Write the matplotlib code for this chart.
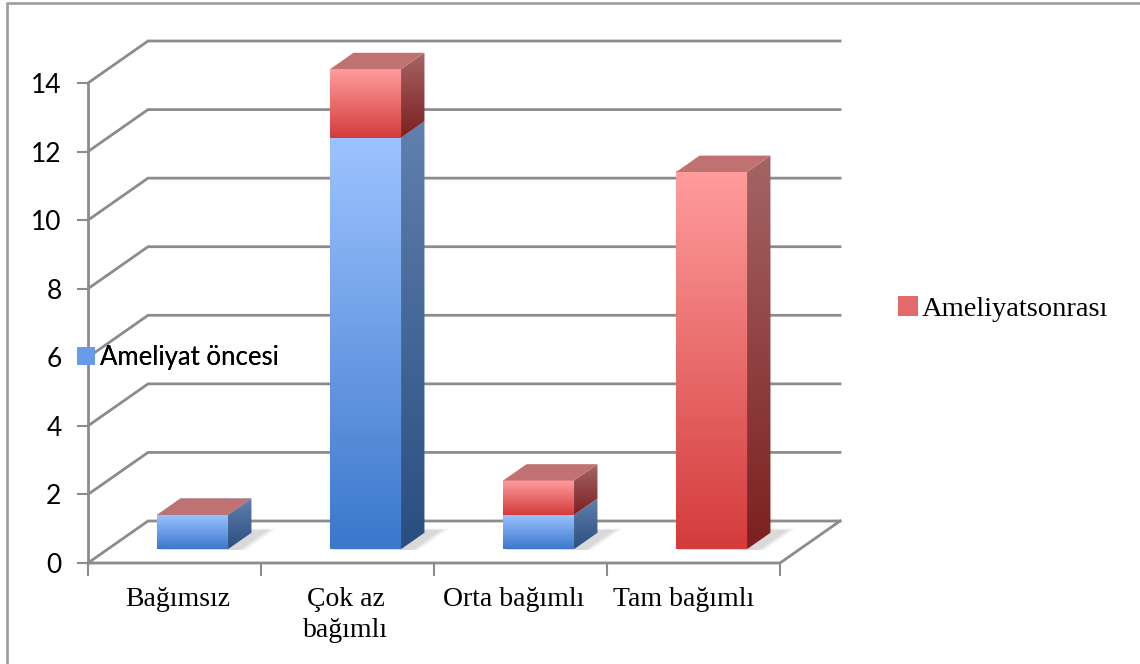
import numpy as np
import matplotlib.pyplot as plt
from matplotlib.patches import Polygon, Rectangle
from matplotlib.lines import Line2D

categories = ["Bağımsız", "Çok az\nbağımlı", "Orta bağımlı", "Tam bağımlı"]
oncesi = [1, 12, 1, 0]
sonrasi = [0, 2, 1, 11]
series_names = ["Ameliyat öncesi", "Ameliyatsonrası"]
y_ticks = [0, 2, 4, 6, 8, 10, 12, 14]
label_x = [0.52, 1.49, 2.46, 3.445]

# oblique "3d" depth offset, in data units (x: categories, y: values)
DX, DY = 0.347, 1.225
F0, F1 = 0.33, 0.72       # bar front / back depth fraction
BW = 0.41                 # bar width
GRID = "#8c8c8c"

blue = dict(front=("#9dc3ff", "#3b78cc"), side=("#6080ad", "#2a4e80"), top="#7a9ccc")
red = dict(front=("#ff9c9c", "#d43c3c"), side=("#a46464", "#7c2020"), top="#c07272")


def grad(c1, c2, n=64):
    a = np.array(plt.matplotlib.colors.to_rgb(c1))
    b = np.array(plt.matplotlib.colors.to_rgb(c2))
    t = np.linspace(0, 1, n)[:, None]
    return (a * (1 - t) + b * t)[:, None, :]


def off(x, y, f):
    return x + DX * f, y + DY * f


def draw_segment(ax, xc, y0, y1, col, top_face):
    xl, xr = xc - BW / 2, xc + BW / 2
    # front face
    fx0, fy0 = off(xl, y0, F0)
    fx1, fy1 = off(xr, y1, F0)
    if y1 > y0:
        im = ax.imshow(grad(*col["front"]), extent=(fx0, fx1, fy0, fy1), origin="upper",
                       aspect="auto", zorder=5, interpolation="bilinear")
        im.set_clip_box(ax.figure.bbox)
        # side face
        pts = [off(xr, y0, F0), off(xr, y0, F1), off(xr, y1, F1), off(xr, y1, F0)]
        poly = Polygon(pts, closed=True, facecolor="none", edgecolor="none", zorder=5,
                       clip_on=False)
        ax.add_patch(poly)
        xs = [p[0] for p in pts]
        ys = [p[1] for p in pts]
        im = ax.imshow(grad(*col["side"]), extent=(min(xs), max(xs), min(ys), max(ys)),
                       origin="upper", aspect="auto", zorder=5, interpolation="bilinear")
        im.set_clip_path(poly)
        im.set_clip_box(ax.figure.bbox)
    if top_face:
        pts = [off(xl, y1, F0), off(xr, y1, F0), off(xr, y1, F1), off(xl, y1, F1)]
        ax.add_patch(Polygon(pts, closed=True, facecolor=col["top"], edgecolor="none",
                             zorder=6, clip_on=False))


fig = plt.figure(figsize=(11.4, 6.64), dpi=100)
W, H = 1140, 664
ax = fig.add_axes([88 / W, (H - 563) / H, 692 / W, 480 / H])
ax.set_xlim(0, 4)
ax.set_ylim(0, 14)
for s in ax.spines.values():
    s.set_visible(False)

# walls / gridlines
for v in y_ticks:
    bx, by = off(0, v, 1)
    ax.plot([0, bx, 4 + DX], [v, by, by], color=GRID, lw=2, zorder=1, clip_on=False,
            solid_joinstyle="miter")
ax.plot([0, 4, 4 + DX], [0, 0, DY], color=GRID, lw=2, zorder=1, clip_on=False)
ax.plot([0, 0], [0, 14], color=GRID, lw=2, zorder=1, clip_on=False)

# soft shadows on floor
for i in range(len(categories)):
    xc = i + 0.49
    for k, a in enumerate([0.05, 0.05, 0.06, 0.07]):
        e = 0.05 - k * 0.012
        pts = [off(xc - BW / 2 + 0.02, 0, F0 - 0.02), off(xc + BW / 2 + 0.06 + e, 0, F0 - 0.02),
               off(xc + BW / 2 + 0.06 + e, 0, F1 + 0.05 + e), off(xc - BW / 2 + 0.1, 0, F1 + 0.05 + e)]
        ax.add_patch(Polygon(pts, closed=True, facecolor="#555555", edgecolor="none",
                             alpha=a, zorder=3, clip_on=False))

# bars
for i in range(len(categories)):
    xc = i + 0.49
    b, r = oncesi[i], sonrasi[i]
    draw_segment(ax, xc, 0, b, blue, top_face=(r == 0 and b > 0))
    if b > 0 or r > 0:
        draw_segment(ax, xc, b, b + r, red, top_face=True)

# axes ticks
ax.set_yticks(y_ticks)
ax.set_yticklabels([str(v) for v in y_ticks], fontsize=19, family="Lato")
ax.tick_params(axis="y", length=8, width=1.5, color=GRID, pad=11)
ax.set_xticks(label_x)
ax.set_xticklabels(categories, fontsize=20, family="Liberation Serif", linespacing=1.35)
ax.tick_params(axis="x", length=0, pad=17)
ax.set_xticks(range(0, 5), minor=True)
ax.tick_params(axis="x", which="minor", length=9, width=1.5, color=GRID)
ax.set_xlim(0, 4)
ax.set_ylim(0, 14)

# legends
h1 = Rectangle((0, 0), 1, 1, facecolor="#6a9be8", edgecolor="none")
h2 = Rectangle((0, 0), 1, 1, facecolor="#e36a6a", edgecolor="none")
leg1 = fig.legend([h1], [series_names[0]], loc="center left", bbox_to_anchor=(54 / W, 1 - 357 / H),
                  frameon=False, handlelength=0.7, handleheight=0.7, handletextpad=0.2,
                  prop=dict(family="Lato", size=18.5))
fig.add_artist(leg1)
fig.legend([h2], [series_names[1]], loc="center left", bbox_to_anchor=(872 / W, 1 - 309 / H),
           frameon=False, handlelength=0.7, handleheight=0.7, handletextpad=0.15,
           prop=dict(family="Liberation Serif", size=20.5))

# outer frame
fig.add_artist(Line2D([7 / W, 7 / W, 1], [0, 1 - 3 / H, 1 - 3 / H], color="#a0a0a0", lw=2,
                      transform=fig.transFigure))

fig.savefig("out.png", dpi=100, facecolor="white")
